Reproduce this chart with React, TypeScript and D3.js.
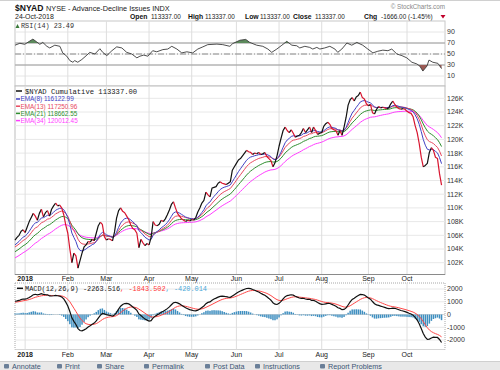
import React from 'react';
import * as d3 from 'd3';

// ---------- data ----------
// $NYAD cumulative daily closes, in thousands, 22-Dec-2017 .. 24-Oct-2018
const closeK = [
  105.3, 105.7, 106.0, 106.6, 106.8, 106.4, 107.2, 108.0, 108.6, 109.2,
  108.8, 108.2, 109.2, 109.8, 108.7, 109.3, 109.6, 108.8, 109.8, 110.3,
  110.7, 110.3, 110.4, 110.0, 109.0, 107.5, 106.3, 104.0, 102.0, 103.4,
  103.0, 101.2, 102.3, 103.4, 104.3, 104.6, 105.1, 105.0, 105.4, 105.2,
  106.3, 107.4, 107.9, 107.6, 105.8, 105.3, 105.5, 105.4, 105.2, 106.5,
  108.5, 109.6, 110.0, 109.5, 109.3, 108.8, 108.3, 107.5, 107.0, 106.8,
  106.3, 104.2, 105.4, 104.9, 104.5, 104.8, 104.6, 105.7, 108.0, 107.5,
  107.4, 107.6, 108.2, 108.0, 108.4, 109.0, 109.7, 110.5, 110.9, 110.0,
  109.2, 108.8, 108.4, 108.2, 108.0, 108.2, 108.1, 108.3, 108.2, 108.6,
  109.4, 110.0, 110.7, 111.1, 112.3, 111.9, 111.6, 112.9, 113.0, 113.1,
  113.6, 113.8, 113.6, 113.5, 113.4, 113.6, 113.8, 115.5, 116.0, 116.5,
  117.0, 117.2, 117.6, 118.0, 118.4, 118.2, 118.1, 117.8, 118.0, 117.9,
  118.1, 117.8, 117.9, 118.1, 117.5, 117.2, 116.9, 116.0, 116.6, 117.6,
  119.0, 120.2, 121.3, 121.8, 121.3, 121.0, 121.4, 120.9, 120.3, 120.5,
  120.6, 121.0, 121.6, 121.0, 121.4, 121.8, 121.0, 121.8, 121.3, 120.7,
  120.9, 121.0, 121.9, 122.3, 122.5, 122.2, 121.6, 121.4, 121.3, 120.6,
  121.3, 120.6, 121.8, 123.2, 125.0, 125.8, 126.1, 125.6, 126.2, 126.4,
  126.9, 126.1, 125.9, 125.2, 124.9, 125.1, 123.9, 123.7, 124.4, 124.8,
  124.6, 124.7, 124.6, 124.5, 124.6, 125.2, 125.6, 125.1, 124.7, 124.5,
  124.4, 124.5, 124.4, 124.1, 123.9, 123.8, 123.3, 122.0, 121.0, 119.4,
  117.4, 116.0, 116.2, 116.5, 118.1, 118.8, 118.4, 117.4, 117.2, 115.003,
  113.337,
];

// RSI(14): bar index and value
const rsiIdx = [
  0, 2.4, 4.8, 7.3, 8.8, 10.7, 12.2, 13.7, 15.7, 17.1, 19.6, 22.1, 23.5, 25.5, 27,
  28.5, 29.4, 30.9, 32.9, 35.4, 36.8, 39.3, 41.8, 43.2, 45.2, 47.7, 50.1, 52.6, 55,
  57.5, 60, 61.5, 63.4, 65.4, 67.8, 69.8, 72.8, 75.2, 77.2, 79.7, 82.1, 84.6, 87.5,
  90, 92.5, 94.9, 99.4, 102.3, 105.8, 107.2, 110.7, 113.6, 115.6, 119, 122, 124.5,
  126.4, 128.9, 131.4, 133.8, 136.3, 138.7, 140.2, 142.7, 145.1, 146.6, 148.6, 150.1,
  152.5, 155, 157.5, 158.9, 160.9, 163.4, 165.8, 168.3, 171.2, 173.7, 176.2, 178.6,
  181.1, 183.6, 185.5, 188, 190.5, 192.9, 195.4, 197.8, 199.3, 200.8, 202.8, 203.8,
  205.7, 208.2, 210,
];
const rsiVal = [
  66, 69.5, 67.6, 73.6, 77, 72, 67.6, 71, 64, 61, 66, 64, 52, 46, 38,
  35, 38, 35, 40, 48, 53, 50, 59.6, 53, 47, 56, 63, 61, 53,
  50, 43, 46, 48, 46, 56, 54, 58, 59, 64, 59, 52, 54, 52,
  59, 63, 67, 68, 67, 64, 69, 75, 76.5, 71, 66, 64, 59,
  53, 59, 66, 73, 66, 65, 61, 64, 62, 59, 62, 59,
  61, 64, 59, 53, 59, 70, 66, 71, 66, 59, 52, 55,
  57, 56, 59, 50, 47, 43, 35, 32, 28, 19, 28, 39,
  35, 33, 23.49,
];

const monthIdx = [5, 26, 45, 66, 87, 109, 130, 151, 174, 193];
const monthLabels = ['2018', 'Feb', 'Mar', 'Apr', 'May', 'Jun', 'Jul', 'Aug', 'Sep', 'Oct'];
const priceTicksK = [102, 104, 106, 108, 110, 112, 114, 116, 118, 120, 122, 124, 126];
const rsiTicks = [90, 70, 50, 30, 10];
const macdTicks = [2000, 1000, 0, -1000, -2000];

const emaPeriods = [8, 13, 21, 34];
const emaStartK = [104.6, 104.3, 103.6, 102.7];
const emaLegendValues = ['116122.99', '117250.96', '118662.55', '120012.45'];
const emaColors = ['#4242c4', '#e8485e', '#2e8e2e', '#ff3cff'];

const macdEmaStartK = [104.38, 103.34]; // EMA(12), EMA(26) at first bar
const macdSignalStart = 965;

const headerStats = [
  { label: 'Open', value: '113337.00', lx: 130, vx: 151 },
  { label: 'High', value: '113337.00', lx: 188, vx: 205 },
  { label: 'Low', value: '113337.00', lx: 245, vx: 260 },
  { label: 'Close', value: '113337.00', lx: 293, vx: 315 },
  { label: 'Chg', value: '-1666.00 (-1.45%)', lx: 364, vx: 381 },
];
const toolbarItems = [
  { t: 'Annotate', x: 12 }, { t: 'Print', x: 65 }, { t: 'Share', x: 105 },
  { t: 'Permalink', x: 152 }, { t: 'Post Data', x: 213 },
  { t: 'Instructions', x: 263 }, { t: 'Report Problems', x: 328 },
];

// ---------- indicators ----------
const close = closeK.map((v) => v * 1000);
const n = close.length;

function ema(values: number[], period: number, start: number) {
  const a = 2 / (period + 1);
  let e = start;
  return values.map((v, i) => {
    if (i > 0) e = e + a * (v - e);
    return e;
  });
}
const emas = emaPeriods.map((p, k) => ema(close, p, emaStartK[k] * 1000));
const e12 = ema(close, 12, macdEmaStartK[0] * 1000);
const e26 = ema(close, 26, macdEmaStartK[1] * 1000);
const macd = e12.map((v, i) => v - e26[i]);
const signal = ema(macd, 9, macdSignalStart);
const hist = macd.map((v, i) => v - signal[i]);

// ---------- layout ----------
const L = 15, R = 445;
const RSI_T = 21, RSI_B = 86;
const MAIN_T = 86, MAIN_B = 274.5;
const MACD_T = 283, MACD_B = 349.5;

const x = d3.scaleLinear().domain([0, 211.7]).range([L, R]);
const yP = d3.scaleLinear().domain([102000, 126000]).range([262.7, 98.3]);
const yR = d3.scaleLinear().domain([10, 90]).range([76, 32]);
const yM = d3.scaleLinear().domain([-2000, 2000]).range([340, 289]);

const SANS = 'Liberation Sans, Arial, sans-serif';
const MONO = 'Liberation Mono, DejaVu Sans Mono, monospace';

export default function App() {
  const idx = d3.range(n);
  const rIdx = d3.range(rsiIdx.length);
  const priceLine = d3.line<number>().x((i) => x(i)).y((i) => yP(close[i]));
  const segs: { up: boolean; pts: number[] }[] = [];
  for (let i = 1; i < n; i++) {
    const up = close[i] >= close[i - 1];
    const last = segs[segs.length - 1];
    if (last && last.up === up) last.pts.push(i);
    else segs.push({ up, pts: [i - 1, i] });
  }
  const rsiLine = d3.line<number>().x((k) => x(rsiIdx[k])).y((k) => yR(rsiVal[k]));
  const rsiHigh = d3.area<number>().x((k) => x(rsiIdx[k])).y0(yR(70)).y1((k) => yR(rsiVal[k]));
  const rsiLow = d3.area<number>().x((k) => x(rsiIdx[k])).y0(yR(30)).y1((k) => yR(rsiVal[k]));
  const macdLine = d3.line<number>().x((i) => x(i)).y((i) => yM(macd[i]));
  const sigLine = d3.line<number>().x((i) => x(i)).y((i) => yM(signal[i]));

  const vGrid = (t: number, b: number) =>
    monthIdx.map((m, k) => (
      <line key={'v' + k} x1={x(m)} x2={x(m)} y1={t} y2={b} stroke="#dedede" strokeWidth={1} />
    ));

  return (
    <svg width={500} height={370} style={{ position: 'absolute', left: 0, top: 0, background: '#fff' }}
      fontFamily={SANS}>
      <defs>
        <clipPath id="rsiAbove"><rect x={L} y={RSI_T} width={R - L} height={yR(70) - RSI_T} /></clipPath>
        <clipPath id="rsiBelow"><rect x={L} y={yR(30)} width={R - L} height={RSI_B - yR(30)} /></clipPath>
      </defs>
      <rect x={0} y={0} width={500} height={370} fill="#fff" />
      <line x1={0} x2={500} y1={0.5} y2={0.5} stroke="#d0d0d0" />
      {/* header */}
      <text x={15} y={10.5} fontSize={8.6} fontWeight="bold" fill="#111">$NYAD</text>
      <text x={46} y={10.5} fontSize={7.3} fill="#222">NYSE - Advance-Decline Issues INDX</text>
      <text x={15} y={18.5} fontSize={7} fill="#222">24-Oct-2018</text>
      {headerStats.map((s) => (
        <g key={s.label}>
          <text x={s.lx} y={18.5} fontSize={6.8} fontWeight="bold" fill="#111">{s.label}</text>
          <text x={s.vx} y={18.5} fontSize={6.4} fill="#222">{s.value}</text>
        </g>
      ))}
      <path d="M440.5,15 L445.5,15 L443,18.5 Z" fill="#c0002a" />
      <text x={445} y={9} fontSize={6.3} fill="#888" textAnchor="end">© StockCharts.com</text>

      {/* RSI panel */}
      <rect x={L} y={RSI_T} width={R - L} height={RSI_B - RSI_T} fill="#fff" stroke="#c8c8c8" />
      {rsiTicks.map((t) => (
        <line key={t} x1={L} x2={R} y1={yR(t)} y2={yR(t)} stroke="#e6e6e6" />
      ))}
      {vGrid(RSI_T, RSI_B)}
      <line x1={L} x2={R} y1={yR(70)} y2={yR(70)} stroke="#9a9a9a" />
      <line x1={L} x2={R} y1={yR(30)} y2={yR(30)} stroke="#9a9a9a" />
      <line x1={L} x2={R} y1={yR(50)} y2={yR(50)} stroke="#8a8a8a" strokeDasharray="6,2,1,2" />
      <path d={rsiHigh(rIdx) || ''} fill="#5c8a5c" clipPath="url(#rsiAbove)" />
      <path d={rsiLow(rIdx) || ''} fill="#9c5a54" clipPath="url(#rsiBelow)" />
      <path d={rsiLine(rIdx) || ''} fill="none" stroke="#3a3a3a" strokeWidth={0.9} />
      {rsiTicks.map((t) => (
        <text key={t} x={447} y={yR(t)} dy="0.35em" fontSize={7} fill="#333">{t}</text>
      ))}
      <path d="M15.5,28 L17.5,24 L19.5,28 Z" fill="#3a7a3a" />
      <text x={21} y={27.8} fontSize={6.8} fontFamily={MONO} fill="#333">RSI(14) 23.49</text>

      {/* main panel */}
      <rect x={L} y={MAIN_T} width={R - L} height={MAIN_B - MAIN_T} fill="#fff" stroke="#bdbdbd" />
      {priceTicksK.map((t) => (
        <line key={t} x1={L} x2={R} y1={yP(t * 1000)} y2={yP(t * 1000)} stroke="#e8e8e8" />
      ))}
      {vGrid(MAIN_T, MAIN_B)}
      {emas.map((e, k) => k).reverse().map((k) => {
        const ln = d3.line<number>().x((i) => x(i)).y((i) => yP(emas[k][i]));
        return <path key={k} d={ln(idx) || ''} fill="none" stroke={emaColors[k]} strokeWidth={1} />;
      })}
      {segs.map((s, k) => (
        <path key={k} d={priceLine(s.pts) || ''} fill="none" stroke={s.up ? '#111' : '#d8142e'}
          strokeWidth={1.2} strokeLinejoin="round" />
      ))}
      {priceTicksK.map((t) => (
        <text key={t} x={447} y={yP(t * 1000)} dy="0.35em" fontSize={7} fill="#333">{t}K</text>
      ))}
      <line x1={16} x2={22} y1={91} y2={91} stroke="#111" strokeWidth={1.5} />
      <text x={25} y={93.5} fontSize={7.2} fontFamily={MONO} fill="#222">$NYAD Cumulative 113337.00</text>
      {emaPeriods.map((p, k) => (
        <g key={p}>
          <line x1={16} x2={20} y1={99 + k * 7.2} y2={99 + k * 7.2} stroke={emaColors[k]} strokeWidth={1.5} />
          <text x={20.5} y={101.3 + k * 7.2} fontSize={6.4} fill={emaColors[k]}>
            EMA({p}) {emaLegendValues[k]}
          </text>
        </g>
      ))}
      <line x1={L} x2={R} y1={MAIN_B} y2={MAIN_B} stroke="#8a8a8a" />

      {/* x labels between */}
      {monthIdx.map((m, k) => (
        <text key={k} x={x(m)} y={281} fontSize={7} textAnchor="middle" fill="#222"
          fontWeight={k === 0 ? 'bold' : 'normal'}>{monthLabels[k]}</text>
      ))}

      {/* MACD panel */}
      <rect x={L} y={MACD_T} width={R - L} height={MACD_B - MACD_T} fill="#fff" stroke="#a8a8a8"
        strokeDasharray="1,1" />
      {macdTicks.map((t) => (
        <line key={t} x1={L} x2={R} y1={yM(t)} y2={yM(t)} stroke={t === 0 ? '#d8d8d8' : '#e8e8e8'} />
      ))}
      {vGrid(MACD_T, MACD_B)}
      {idx.map((i) => (
        <rect key={i} x={x(i) - 0.75} width={1.5} y={Math.min(yM(0), yM(hist[i]))}
          height={Math.abs(yM(hist[i]) - yM(0))} fill="#3f8fc0" />
      ))}
      <path d={sigLine(idx) || ''} fill="none" stroke="#ff4848" strokeWidth={1} />
      <path d={macdLine(idx) || ''} fill="none" stroke="#111" strokeWidth={1.2} />
      {macdTicks.map((t) => (
        <text key={t} x={447} y={yM(t)} dy="0.35em" fontSize={7} fill="#333">{t}</text>
      ))}
      <line x1={17} x2={23} y1={288.3} y2={288.3} stroke="#111" strokeWidth={1.5} />
      <text x={25} y={290.8} fontSize={6.9} fontFamily={MONO}>
        <tspan fill="#222">MACD(12,26,9) -2263.516</tspan>
        <tspan fill="#ff3838">, -1843.502</tspan>
        <tspan fill="#4aa8d8">, -420.014</tspan>
      </text>
      {monthIdx.map((m, k) => (
        <text key={k} x={x(m)} y={356.5} fontSize={7} textAnchor="middle" fill="#222"
          fontWeight={k === 0 ? 'bold' : 'normal'}>{monthLabels[k]}</text>
      ))}

      {/* toolbar */}
      <rect x={0} y={361.5} width={500} height={9} fill="#e8e8e8" />
      <line x1={0} x2={500} y1={361.5} y2={361.5} stroke="#cfcfcf" />
      {toolbarItems.map((it) => (
        <g key={it.t}>
          <rect x={it.x - 8} y={364} width={5} height={4.5} fill="#6a7f98" rx={1} />
          <text x={it.x} y={368.6} fontSize={7.2} fill="#3b5675">{it.t}</text>
        </g>
      ))}
    </svg>
  );
}
